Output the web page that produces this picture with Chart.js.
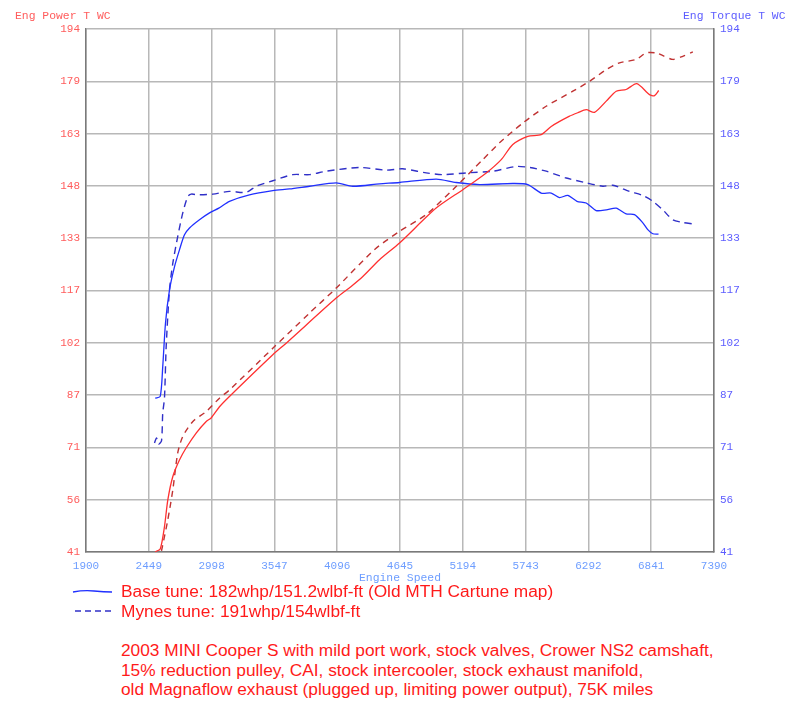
<!DOCTYPE html>
<html>
<head>
<meta charset="utf-8">
<script src="https://cdn.jsdelivr.net/npm/chart.js@4"></script>
<style>
  body { margin: 0; background: #fff; width: 800px; height: 727px; position: relative; overflow: hidden; }
  #wrap { position: absolute; left: 0; top: 0; width: 800px; height: 590px; }
  .mono { position: absolute; font: 11.4px "Liberation Mono", "DejaVu Sans Mono", monospace; white-space: pre; }
  .txt { position: absolute; left: 121px; font: 17.3px "Liberation Sans", Arial, sans-serif; color: #ff1a1a; white-space: pre; line-height: 19.5px; }
  svg.key { position: absolute; left: 72px; width: 42px; height: 8px; }
</style>
</head>
<body>
<div id="wrap"><canvas id="dyno" width="800" height="590"></canvas></div>

<div class="mono" style="left:15px;top:10px;color:#ff5c5c">Eng Power T WC</div>
<div class="mono" style="left:683px;top:10px;color:#5c5cff">Eng Torque T WC</div>
<div class="mono" style="left:359px;top:572px;color:#6d9dff">Engine Speed</div>

<svg class="key" style="top:587px"><path d="M1 5 Q12 3 22 4 T40 5" stroke="#2030ff" stroke-width="1.3" fill="none"/></svg>
<svg class="key" style="top:607px"><line x1="3" y1="4" x2="40" y2="4" stroke="#3030c8" stroke-width="1.3" stroke-dasharray="6,4"/></svg>
<div class="txt" id="leg1" style="top:582px"></div>
<div class="txt" id="leg2" style="top:602px"></div>
<div class="txt" id="notes" style="top:641px"></div>

<script>
// --- 軸の目盛り ---
const xTicks = [1900, 2449, 2998, 3547, 4096, 4645, 5194, 5743, 6292, 6841, 7390];
const yTickValues = [41, 56.3, 71.6, 86.9, 102.2, 117.5, 132.8, 148.1, 163.4, 178.7, 194];
const yTickLabels = ['41', '56', '71', '87', '102', '117', '133', '148', '163', '179', '194'];

// --- 凡例とメモ ---
const seriesNames = ['Base tune: 182whp/151.2wlbf-ft (Old MTH Cartune map)', 'Mynes tune: 191whp/154wlbf-ft'];
const notes = [
    '2003 MINI Cooper S with mild port work, stock valves, Crower NS2 camshaft,',
    '15% reduction pulley, CAI, stock intercooler, stock exhaust manifold,',
    'old Magnaflow exhaust (plugged up, limiting power output), 75K miles'
];

// --- データ (rpm, 値) ---
// Base tune パワー
const baseRpmP = [2505, 2549, 2586, 2615, 2659, 2717, 2776, 2863, 2951, 2994, 3067, 3154, 3533, 3650, 4087, 4218, 4320, 4466, 4641, 4961, 5194, 5399, 5530, 5631, 5762, 5879, 5967, 6127, 6199, 6273, 6345, 6448, 6535, 6622, 6715, 6826, 6870, 6907];
const basePower = [41.1, 41.9, 48.4, 56.2, 63.1, 67.9, 71.5, 75.8, 79.2, 80.2, 83.5, 86.5, 98.7, 102.1, 115.3, 118.7, 121.6, 126.5, 131.4, 141.6, 147.0, 151.9, 155.8, 160.2, 162.6, 163.1, 165.5, 168.5, 169.5, 170.4, 169.6, 172.9, 175.8, 176.3, 178.0, 174.8, 174.5, 176.0];
// Base tune トルク
const baseRpmT = [2505, 2549, 2571, 2595, 2630, 2674, 2717, 2761, 2805, 2892, 2980, 3061, 3154, 3329, 3533, 3679, 3854, 4087, 4232, 4466, 4641, 4961, 5136, 5340, 5631, 5762, 5879, 5967, 6039, 6112, 6192, 6273, 6360, 6448, 6535, 6622, 6695, 6768, 6811, 6855, 6905];
const baseTorque = [86.0, 86.5, 95.3, 108.0, 117.7, 124.5, 129.4, 133.8, 135.8, 138.2, 140.2, 141.6, 143.6, 145.5, 146.7, 147.2, 148.0, 149.0, 148.0, 148.7, 149.1, 150.1, 149.1, 148.5, 148.8, 148.5, 146.0, 146.0, 144.7, 145.3, 143.6, 143.1, 140.9, 141.1, 141.6, 139.9, 139.7, 137.3, 135.3, 134.1, 134.0];
// Mynes tune パワー
const mynesRpmP = [2560, 2615, 2659, 2702, 2746, 2834, 2951, 3067, 3154, 3533, 3854, 4087, 4420, 4641, 4874, 5107, 5369, 5515, 5719, 5923, 6156, 6302, 6448, 6564, 6710, 6797, 6885, 6943, 7030, 7117, 7205];
const mynesPower = [41.3, 50.4, 59.2, 70.0, 74.8, 79.2, 82.1, 86.0, 88.4, 100.6, 110.9, 118.2, 129.4, 134.8, 139.7, 147.0, 155.8, 160.7, 166.5, 171.4, 175.8, 178.7, 182.1, 184.1, 185.1, 187.0, 187.0, 186.2, 185.1, 186.0, 187.3];
// Mynes tune トルク
const mynesRpmT = [2499, 2516, 2534, 2560, 2571, 2586, 2601, 2630, 2659, 2702, 2746, 2790, 2820, 2877, 3009, 3154, 3300, 3388, 3533, 3708, 3854, 4000, 4291, 4524, 4669, 4874, 5019, 5224, 5456, 5661, 5777, 5923, 6098, 6273, 6418, 6505, 6651, 6768, 6855, 6942, 7030, 7117, 7205];
const mynesTorque = [72.9, 74.4, 72.6, 73.5, 81.7, 86.0, 101.1, 117.7, 125.5, 133.3, 140.2, 145.0, 145.7, 145.5, 145.7, 146.5, 146.2, 148.0, 149.6, 151.4, 151.4, 152.4, 153.5, 152.7, 153.1, 151.9, 151.4, 151.9, 152.4, 153.8, 153.5, 152.4, 150.4, 149.0, 148.0, 148.3, 146.5, 145.3, 143.6, 141.1, 138.2, 137.4, 137.0];

// 凡例テキスト反映
document.getElementById('leg1').textContent = seriesNames[0];
document.getElementById('leg2').textContent = seriesNames[1];
document.getElementById('notes').textContent = notes.join('\n');

const toXY = (xs, ys) => xs.map((x, i) => ({ x: x, y: ys[i] }));
const MONO = "'Liberation Mono', 'DejaVu Sans Mono', monospace";

// y軸の目盛りを固定
function fixYTicks(scale) {
    scale.ticks = yTickValues.map(v => ({ value: v }));
}

const yScale = (pos, color) => ({
    type: 'linear',
    position: pos,
    min: 41,
    max: 194,
    afterBuildTicks: fixYTicks,
    afterFit: s => { s.width = 86; },
    ticks: {
        color: color,
        font: { family: MONO, size: 11 },
        padding: 6,
        callback: (v, i) => yTickLabels[i]
    },
    grid: { display: pos === 'left', color: '#b8b8b8', lineWidth: 1.5, drawTicks: false },
    border: { color: '#7a7a7a', width: 1.5 }
});

new Chart(document.getElementById('dyno').getContext('2d'), {
    type: 'line',
    data: {
        datasets: [
            { label: 'Base power', data: toXY(baseRpmP, basePower), yAxisID: 'y', borderColor: '#ff3030', borderWidth: 1.3 },
            { label: 'Mynes power', data: toXY(mynesRpmP, mynesPower), yAxisID: 'y', borderColor: '#c03232', borderWidth: 1.4, borderDash: [6, 5] },
            { label: 'Base torque', data: toXY(baseRpmT, baseTorque), yAxisID: 'y2', borderColor: '#2030ff', borderWidth: 1.3 },
            { label: 'Mynes torque', data: toXY(mynesRpmT, mynesTorque), yAxisID: 'y2', borderColor: '#3030c8', borderWidth: 1.4, borderDash: [7, 5] }
        ]
    },
    options: {
        responsive: false,
        animation: false,
        devicePixelRatio: 1,
        layout: { padding: { top: 29, left: 0, right: 0, bottom: 0 } },
        elements: { point: { radius: 0 }, line: { tension: 0.25, fill: false } },
        scales: {
            x: {
                type: 'linear',
                min: 1900,
                max: 7390,
                afterBuildTicks: s => { s.ticks = xTicks.map(v => ({ value: v })); },
                afterFit: s => { s.height = 38; },
                ticks: {
                    color: '#6d9dff',
                    font: { family: MONO, size: 11 },
                    padding: 7,
                    maxRotation: 0,
                    autoSkip: false,
                    callback: v => String(v)
                },
                grid: { color: '#b8b8b8', lineWidth: 1.5, drawTicks: false },
                border: { color: '#7a7a7a', width: 1.5 }
            },
            y: yScale('left', '#ff5c5c'),
            y2: yScale('right', '#5c5cff')
        },
        plugins: {
            legend: { display: false },
            tooltip: { enabled: false }
        }
    }
});
</script>
</body>
</html>
